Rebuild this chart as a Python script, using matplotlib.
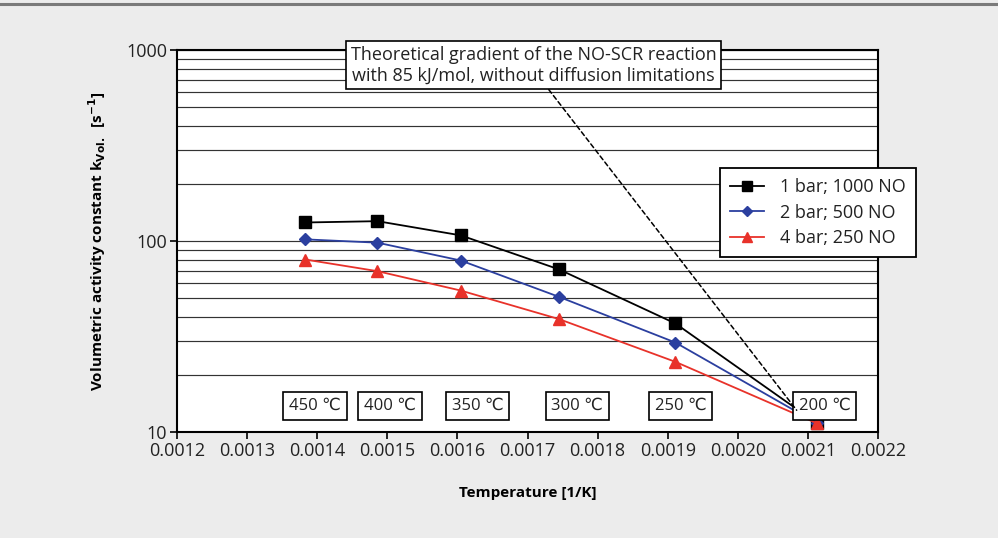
"""Volumetric activity constant over inverse temperature (Arrhenius plot)."""

import matplotlib
matplotlib.use("Agg")
import matplotlib.pyplot as plt
from matplotlib.lines import Line2D

plt.rcParams['font.family'] = ['Open Sans', 'DejaVu Sans']

# inverse temperature [1/K] for 450, 400, 350, 300, 250, 200 degC
inv_temp = [0.001383, 0.001486, 0.001605, 0.001745, 0.001911, 0.002113]
temp_labels = ["450 ℃", "400 ℃", "350 ℃", "300 ℃", "250 ℃", "200 ℃"]

k_1bar = [125, 127, 107, 71, 37, 11.1]
k_2bar = [102, 98, 79, 51, 29.4, 11.1]
k_4bar = [80, 69.5, 55, 39, 23.3, 11.1]

series_names = ["1 bar; 1000 NO", "2 bar; 500 NO", "4 bar; 250 NO"]

x_ticks = [0.0012, 0.0013, 0.0014, 0.0015, 0.0016, 0.0017,
           0.0018, 0.0019, 0.0020, 0.0021, 0.0022]

# where the temperature boxes sit (data coords)
label_x = [0.001397, 0.001504, 0.001629, 0.001771, 0.001918, 0.002124]
label_y = 13.7

bg = '#ececec'
fig = plt.figure(figsize=(9.98, 5.38), dpi=100, facecolor=bg)
ax = fig.add_axes([177/998, 1-432/538, (878-177)/998, (432-50)/538])
ax.set_facecolor('white')

# top rule of the panel
fig.add_artist(Line2D([0, 1], [1-4/538, 1-4/538], color='#7a7a7a', lw=2.2,
                      transform=fig.transFigure))

ax.set_yscale('log')
ax.set_ylim(10, 1000)
ax.set_xlim(0.0012, 0.0022)
ax.set_xticks(x_ticks)
ax.set_xticklabels([f"{t:.4f}" for t in x_ticks])
ax.set_yticks([10, 100, 1000])
ax.set_yticklabels(["10", "100", "1000"])
ax.yaxis.set_minor_locator(matplotlib.ticker.LogLocator(subs=range(2, 10)))
ax.yaxis.set_minor_formatter(matplotlib.ticker.NullFormatter())
ax.tick_params(axis='y', which='minor', length=0)
ax.tick_params(axis='both', which='major', direction='out', length=5,
               width=1.2, labelsize=13, colors='black', pad=2)
ax.tick_params(axis='both', labelcolor='#222222')
ax.grid(True, axis='y', which='both', color='#333333', lw=0.85)
ax.set_axisbelow(True)
for sp in ax.spines.values():
    sp.set_linewidth(1.5)
    sp.set_color('black')

ax.plot(inv_temp, k_1bar, color='black', lw=1.3, marker='s', ms=9,
        label=series_names[0], zorder=3)
ax.plot(inv_temp, k_2bar, color='#2b3f9f', lw=1.3, marker='D', ms=6.5,
        label=series_names[1], zorder=3)
ax.plot(inv_temp, k_4bar, color='#e8322a', lw=1.3, marker='^', ms=8,
        label=series_names[2], zorder=3)

box = dict(boxstyle='square,pad=0.35', fc='white', ec='black', lw=1.2)
for lx, txt in zip(label_x, temp_labels):
    ax.text(lx, label_y, txt, ha='center', va='center', fontsize=12,
            color='#222222', bbox=box, zorder=4)

ax.annotate("Theoretical gradient of the NO-SCR reaction\n"
            "with 85 kJ/mol, without diffusion limitations",
            xy=(0.002084, 13.0), xytext=(0.001709, 834),
            ha='center', va='center', fontsize=13, linespacing=1.2,
            color='#222222',
            bbox=dict(boxstyle='square,pad=0.25', fc='white', ec='black', lw=1.2),
            arrowprops=dict(arrowstyle='-', ls=(0, (3, 2)), lw=1.1,
                            color='black', relpos=(0.53, 0), shrinkA=0,
                            shrinkB=0),
            zorder=5, annotation_clip=False)

leg = ax.legend(loc='upper right', bbox_to_anchor=(1.054, 0.691),
                borderaxespad=0, fontsize=13, fancybox=False, framealpha=1,
                edgecolor='black', handlelength=1.9, borderpad=0.55,
                labelspacing=0.42, handletextpad=0.9, markerscale=0.85)
leg.get_frame().set_linewidth(1.3)
leg.set_zorder(6)
for t in leg.get_texts():
    t.set_color('#222222')

ax.set_xlabel("Temperature [1/K]", fontsize=11, fontweight='bold', labelpad=19)
ax.set_ylabel(r"Volumetric activity constant k$_{\mathbf{Vol.}}$  [s$^{\mathbf{-1}}$]",
              fontsize=11, fontweight='bold', labelpad=13)

fig.savefig("out.png", dpi=100, facecolor=bg)
